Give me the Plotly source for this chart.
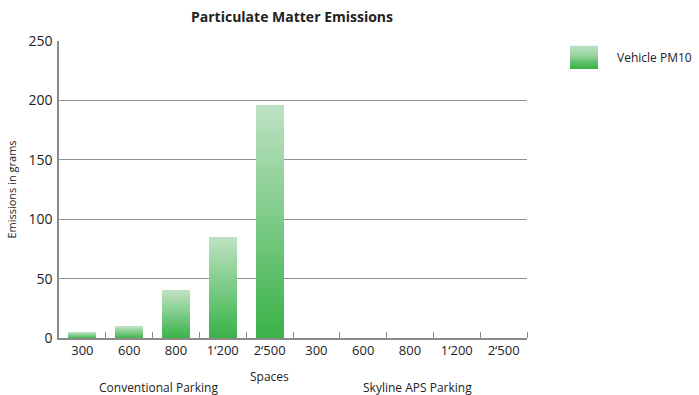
import plotly.graph_objects as go

title = "Particulate Matter Emissions"
tick_labels = ["300", "600", "800", "1‘200", "2‘500", "300", "600", "800", "1‘200", "2‘500"]
groups = ["Conventional Parking", "Skyline APS Parking"]
series_name = "Vehicle PM10"
values = [5, 10, 40, 85, 196, 0, 0, 0, 0, 0]

x = list(range(len(values)))
N = 40
top = (190, 226, 196)
bot = (58, 178, 72)

def mix(t):
    return "rgb(%d,%d,%d)" % tuple(round(bot[i] + (top[i] - bot[i]) * t) for i in range(3))

fig = go.Figure()
for k in range(N):
    t = (k + 0.5) / N
    fig.add_trace(go.Bar(
        x=x, y=[v / N for v in values], width=0.6,
        marker=dict(color=mix(t), line=dict(width=0)),
        showlegend=False, hoverinfo="skip",
    ))

# legend swatch as gradient strips
lx0, lx1, ly0, ly1 = 570, 598, 46, 69
W, H = 699, 395
shapes = []
M = 24
for k in range(M):
    t = 1 - (k + 0.5) / M
    y0 = ly0 + (ly1 - ly0) * k / M
    y1 = ly0 + (ly1 - ly0) * (k + 1) / M
    shapes.append(dict(type="rect", xref="paper", yref="paper",
                       x0=(lx0 - 59) / 468, x1=(lx1 - 59) / 468,
                       y0=(338 - y1) / 297, y1=(338 - y0) / 297 + 0.001,
                       line=dict(width=0), fillcolor=mix(t), layer="above"))

font = "Open Sans"
fig.update_layout(
    width=W, height=H,
    margin=dict(l=59, r=172, t=41, b=57),
    paper_bgcolor="white", plot_bgcolor="white",
    barmode="stack", bargap=0,
    showlegend=False,
    font=dict(family=font, size=12, color="#222"),
    title=dict(text="<b>" + title + "</b>", x=(292) / W, xanchor="center",
               y=1 - 17 / H, yanchor="middle", font=dict(size=14, family=font, color="#222")),
    shapes=shapes,
    xaxis=dict(
        range=[-0.5, 9.5], tickmode="array", tickvals=x, ticktext=tick_labels,
        ticks="", showgrid=False, showline=True, linecolor="#8a8a8a", linewidth=1.5,
        tickfont=dict(size=13, color="#222"), zeroline=False,
        minor=dict(tickmode="array", tickvals=[i + 0.5 for i in range(10)],
                   ticks="inside", ticklen=6, tickcolor="#8a8a8a", tickwidth=1, showgrid=False),
    ),
    yaxis=dict(
        range=[0, 250], tickvals=[0, 50, 100, 150, 200, 250],
        showgrid=True, gridcolor="#909090", gridwidth=1.3,
        showline=True, linecolor="#8a8a8a", linewidth=1.5, zeroline=False,
        tickfont=dict(size=14, color="#222"), ticklabelstandoff=2,
        title=dict(text="Emissions in grams", font=dict(size=11, color="#222"), standoff=10),
    ),
    annotations=[
        dict(text="Spaces", xref="paper", yref="paper", x=(269 - 59) / 468, y=(338 - 376) / 297,
             showarrow=False, xanchor="center", yanchor="middle", font=dict(size=12)),
        dict(text=groups[0], xref="paper", yref="paper", x=(158 - 59) / 468, y=(338 - 387) / 297,
             showarrow=False, xanchor="center", yanchor="middle", font=dict(size=12)),
        dict(text=groups[1], xref="paper", yref="paper", x=(417 - 59) / 468, y=(338 - 387) / 297,
             showarrow=False, xanchor="center", yanchor="middle", font=dict(size=12)),
        dict(text=series_name, xref="paper", yref="paper", x=(615 - 59) / 468, y=(338 - 58) / 297,
             showarrow=False, xanchor="left", yanchor="middle", font=dict(size=12)),
    ],
)

fig.write_html("out.html", config={"displayModeBar": False},
               post_script="document.body.style.margin='0px';document.body.style.overflow='hidden';")
